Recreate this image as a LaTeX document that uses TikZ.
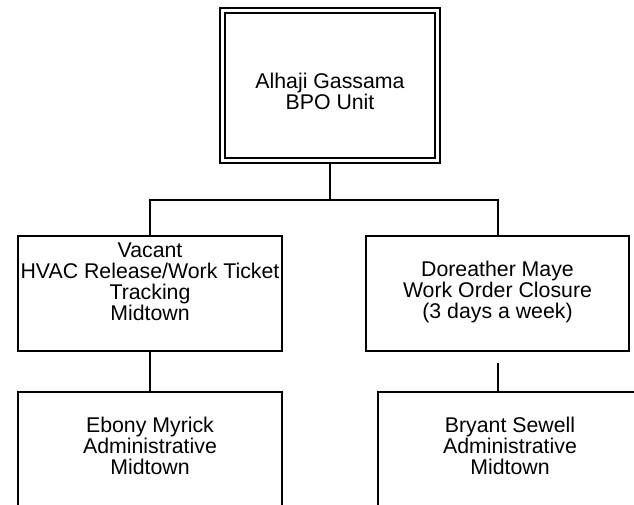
\documentclass[tikz,border=0pt]{standalone}
\usepackage{fontspec}
\setmainfont{Liberation Sans}
\begin{document}
\begin{tikzpicture}[x=1pt,y=-1pt,
  box/.style={draw, line width=1.4pt, rectangle, inner sep=0pt},
  topbox/.style={draw, line width=1.4pt, double, double distance=3.4pt, rectangle, inner sep=0pt},
  lbl/.style={align=center, inner sep=0pt, font=\fontsize{21.3}{21}\selectfont},
  conn/.style={line width=1.4pt}]
\useasboundingbox (0,0) rectangle (634,504);
\node[topbox, minimum width=215pt, minimum height=150pt] (top) at (330,85.5) {};
\node[lbl] (toptext) at (330,91.5) {Alhaji Gassama\\BPO Unit};
\node[box, minimum width=264pt, minimum height=115pt] (vac) at (150,293.5) {};
\node[lbl] (vactext) at (150,282) {Vacant\\HVAC Release/Work Ticket\\Tracking\\Midtown};
\node[box, minimum width=263pt, minimum height=115pt] (dor) at (497.5,293.5) {};
\node[lbl] (dortext) at (497.5,291.5) {Doreather Maye\\Work Order Closure\\(3 days a week)};
\node[box, minimum width=264pt, minimum height=122pt] (ebo) at (150,453) {};
\node[lbl] (ebotext) at (150,445.5) {Ebony Myrick\\Administrative\\Midtown};
\node[box, minimum width=264pt, minimum height=122pt] (bry) at (510,453) {};
\node[lbl] (brytext) at (510,445.5) {Bryant Sewell\\Administrative\\Midtown};
\coordinate (topbot) at (330,163);
\coordinate (bus) at (330,200);
\coordinate (dorgap) at (498,363);
\draw[conn] (topbot) -- (bus);
\draw[conn] (bus) -| (vac.north);
\draw[conn] (bus) -| ([xshift=0.5pt]dor.north);
\draw[conn] (vac.south) -- (ebo.north);
\draw[conn] (dorgap) -- (dorgap |- bry.north);
\end{tikzpicture}
\end{document}
